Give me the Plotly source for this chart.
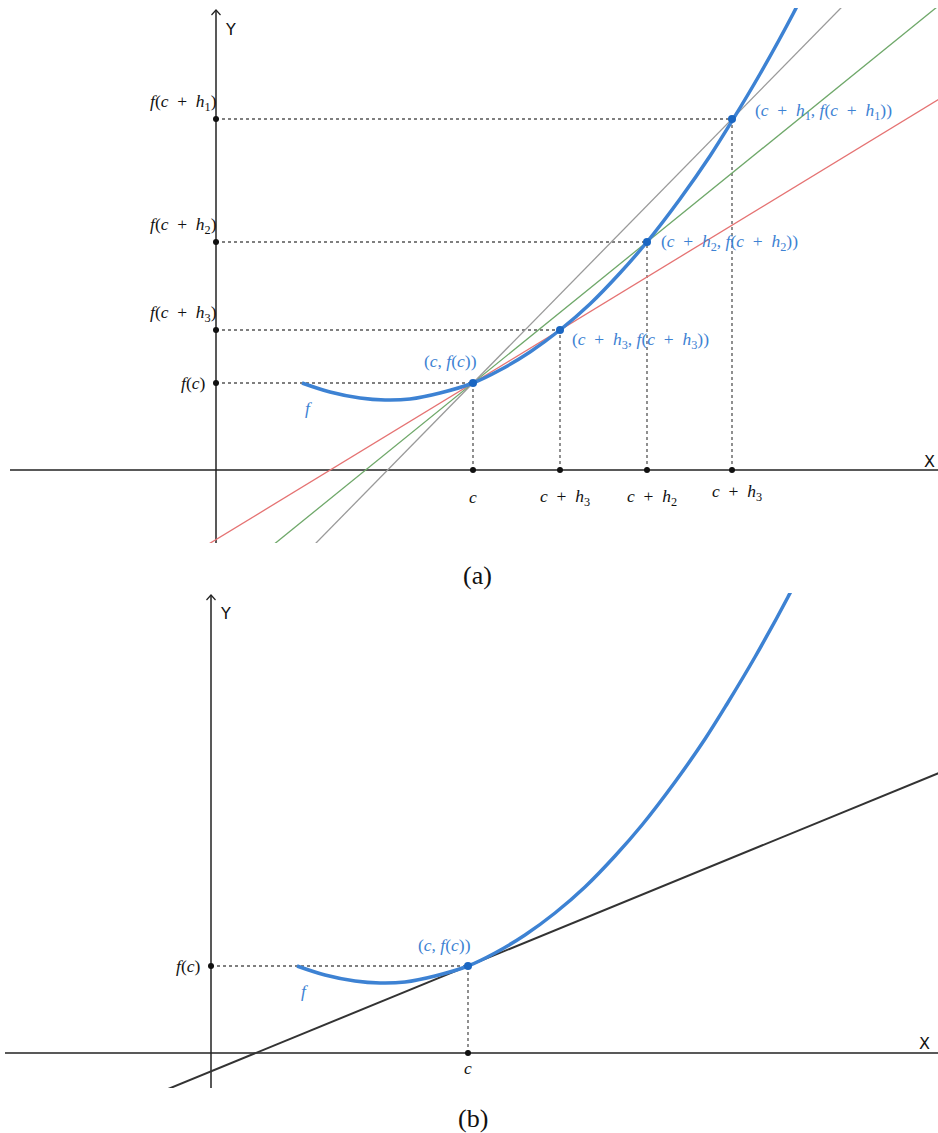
import plotly.graph_objects as go

# ---- data (units: 1 = 100 px of the reference) ----
curve_x = [0.86, 1.14, 1.44, 1.69, 1.94, 2.24, 2.57, 2.84, 3.14, 3.44, 3.74,
           4.04, 4.31, 4.64, 4.94, 5.16, 5.44, 5.77, 5.85]
curve_y = [0.87, 0.78, 0.72, 0.70, 0.71, 0.77, 0.87, 1.00, 1.18, 1.40, 1.66,
           1.97, 2.28, 2.71, 3.14, 3.49, 3.96, 4.56, 4.72]

pt_x = [2.57, 3.44, 4.31, 5.16]   # c, c+h3, c+h2, c+h1
pt_y = [0.87, 1.40, 2.28, 3.51]

secant_colors = [None, "#E57373", "#6FA86A", "#9A9A9A"]
tangent_slope = 0.41

P = "\u2002+\u2002"   # math-style spacing around plus
y_labels = ["<i>f</i>(<i>c</i>)",
            "<i>f</i>(<i>c</i>" + P + "<i>h</i><sub>3</sub>)",
            "<i>f</i>(<i>c</i>" + P + "<i>h</i><sub>2</sub>)",
            "<i>f</i>(<i>c</i>" + P + "<i>h</i><sub>1</sub>)"]
x_labels = ["<i>c</i>",
            "<i>c</i>" + P + "<i>h</i><sub>3</sub>",
            "<i>c</i>" + P + "<i>h</i><sub>2</sub>",
            "<i>c</i>" + P + "<i>h</i><sub>3</sub>"]
pt_labels = ["(<i>c</i>, <i>f</i>(<i>c</i>))",
             "(<i>c</i>" + P + "<i>h</i><sub>3</sub>, <i>f</i>(<i>c</i>" + P + "<i>h</i><sub>3</sub>))",
             "(<i>c</i>" + P + "<i>h</i><sub>2</sub>, <i>f</i>(<i>c</i>" + P + "<i>h</i><sub>2</sub>))",
             "(<i>c</i>" + P + "<i>h</i><sub>1</sub>, <i>f</i>(<i>c</i>" + P + "<i>h</i><sub>1</sub>))"]

# ---- styling ----
W, H = 938, 1133
BLUE = "#3D82D3"
PTBLUE = "#1A66C2"
AXC = "#222222"
DOTC = "#555555"
SERIF = "Liberation Serif, DejaVu Serif, Noto Serif, Times New Roman, serif"
SANS = "DejaVu Sans, Liberation Sans, sans-serif"
FS = 17.5

xa_range = [-2.06, 7.22]; ya_range = [-0.73, 4.62]
xb_range = [-2.06, 7.27]; yb_range = [-0.35, 4.60]
ya_top = 4.60; yb_top = 4.58

fig = go.Figure()


def line(x, y, color, width, dash=None, ax="", shape="linear"):
    fig.add_trace(go.Scatter(x=x, y=y, mode="lines",
                             line=dict(color=color, width=width, dash=dash, shape=shape),
                             xaxis="x" + ax, yaxis="y" + ax, hoverinfo="skip",
                             showlegend=False))


def dots(x, y, color, size, ax=""):
    fig.add_trace(go.Scatter(x=x, y=y, mode="markers",
                             marker=dict(color=color, size=size),
                             xaxis="x" + ax, yaxis="y" + ax, hoverinfo="skip",
                             showlegend=False, cliponaxis=False))


def axes(xr, yr, ytop, ax):
    line([xr[0], xr[1]], [0, 0], AXC, 1.5, ax=ax)
    line([0, 0], [yr[0], ytop], AXC, 1.5, ax=ax)
    line([-0.045, 0, 0.045], [ytop - 0.05, ytop, ytop - 0.05], AXC, 1.2, ax=ax)


# ================= panel (a) =================
axes(xa_range, ya_range, ya_top, "")
for i in range(4):
    line([0, pt_x[i]], [pt_y[i], pt_y[i]], DOTC, 1.3, dash="dot")
    line([pt_x[i], pt_x[i]], [0, pt_y[i]], DOTC, 1.3, dash="dot")
for i in range(1, 4):
    s = (pt_y[i] - pt_y[0]) / (pt_x[i] - pt_x[0])
    xs = [-3.0, 8.0]
    line(xs, [pt_y[0] + s * (x - pt_x[0]) for x in xs], secant_colors[i], 1.3)
line(curve_x, curve_y, BLUE, 3.5, shape="spline")
dots([0] * 4, pt_y, "#111111", 6)
dots(pt_x, [0] * 4, "#111111", 6)
dots(pt_x, pt_y, PTBLUE, 8)

# ================= panel (b) =================
axes(xb_range, yb_range, yb_top, "2")
line([0, pt_x[0]], [pt_y[0], pt_y[0]], DOTC, 1.3, dash="dot", ax="2")
line([pt_x[0], pt_x[0]], [0, pt_y[0]], DOTC, 1.3, dash="dot", ax="2")
xs = [-3.0, 8.0]
line(xs, [pt_y[0] + tangent_slope * (x - pt_x[0]) for x in xs], "#333333", 2, ax="2")
line(curve_x, curve_y, BLUE, 3.5, ax="2", shape="spline")
dots([0], [pt_y[0]], "#111111", 6, ax="2")
dots([pt_x[0]], [0], "#111111", 6, ax="2")
dots([pt_x[0]], [pt_y[0]], PTBLUE, 8, ax="2")

# ================= annotations =================
ann = []


def A(text, x, y, ax="", size=FS, color="#111111", family=SERIF, **kw):
    d = dict(text=text, x=x, y=y, xref="x" + ax, yref="y" + ax, showarrow=False,
             font=dict(family=family, size=size, color=color))
    d.update(kw)
    ann.append(d)


# panel (a) y labels
A(y_labels[0], 0, pt_y[0], xanchor="right", yanchor="middle", xshift=-9)
for i in range(1, 4):
    A(y_labels[i], 0, pt_y[i], xanchor="right", yanchor="middle", xshift=3, yshift=17)
# panel (a) x labels
for i in range(4):
    A(x_labels[i], pt_x[i], 0, xanchor="center", yanchor="middle",
      xshift=(0 if i == 0 else 5), yshift=(-22 if i == 3 else -27))
# panel (a) point labels
A(pt_labels[0], pt_x[0], pt_y[0], xanchor="center", yanchor="middle",
  xshift=-23, yshift=22, color=BLUE)
A(pt_labels[1], pt_x[1], pt_y[1], xanchor="left", yanchor="middle",
  xshift=10, yshift=-10, color=BLUE)
A(pt_labels[2], pt_x[2], pt_y[2], xanchor="left", yanchor="middle",
  xshift=12, yshift=0, color=BLUE)
A(pt_labels[3], pt_x[3], pt_y[3], xanchor="left", yanchor="middle",
  xshift=21, yshift=8, color=BLUE)
A("<i>f</i>", curve_x[0], curve_y[0], xanchor="center", yanchor="middle",
  xshift=6, yshift=-25, color=BLUE)
A("Y", 0, ya_top, xanchor="left", yanchor="middle", xshift=7, yshift=-19,
  family=SANS, size=16)
A("X", xa_range[1], 0, xanchor="right", yanchor="middle", xshift=-1, yshift=9,
  family=SANS, size=16)

# panel (b)
A(y_labels[0], 0, pt_y[0], ax="2", xanchor="right", yanchor="middle", xshift=-9)
A(x_labels[0], pt_x[0], 0, ax="2", xanchor="center", yanchor="middle", yshift=-15)
A(pt_labels[0], pt_x[0], pt_y[0], ax="2", xanchor="center", yanchor="middle",
  xshift=-24, yshift=21, color=BLUE)
A("<i>f</i>", curve_x[0], curve_y[0], ax="2", xanchor="center", yanchor="middle",
  xshift=7, yshift=-25, color=BLUE)
A("Y", 0, yb_top, ax="2", xanchor="left", yanchor="middle", xshift=7, yshift=-18,
  family=SANS, size=16)
A("X", xb_range[1], 0, ax="2", xanchor="right", yanchor="middle", xshift=-6, yshift=10,
  family=SANS, size=16)

# captions
ann.append(dict(text="(a)", x=478 / W, y=1 - 575 / H, xref="paper", yref="paper",
                showarrow=False, xanchor="center", yanchor="middle",
                font=dict(family=SERIF, size=26, color="#111111")))
ann.append(dict(text="(b)", x=473 / W, y=1 - 1118 / H, xref="paper", yref="paper",
                showarrow=False, xanchor="center", yanchor="middle",
                font=dict(family=SERIF, size=26, color="#111111")))

hidden = dict(visible=False, showgrid=False, zeroline=False, fixedrange=True)
fig.update_layout(
    width=W, height=H,
    margin=dict(l=0, r=0, t=0, b=0),
    paper_bgcolor="white", plot_bgcolor="white",
    showlegend=False, hovermode=False,
    xaxis=dict(domain=[10 / W, 1], range=xa_range, **hidden),
    yaxis=dict(domain=[1 - 543 / H, 1 - 8 / H], range=ya_range, **hidden),
    xaxis2=dict(domain=[5 / W, 1], range=xb_range, anchor="y2", **hidden),
    yaxis2=dict(domain=[1 - 1088 / H, 1 - 593 / H], range=yb_range, anchor="x2", **hidden),
    annotations=ann,
)

fig.write_html("out.html", config=dict(displayModeBar=False, staticPlot=True),
               post_script="document.body.style.margin='0';document.body.style.overflow='hidden';")
